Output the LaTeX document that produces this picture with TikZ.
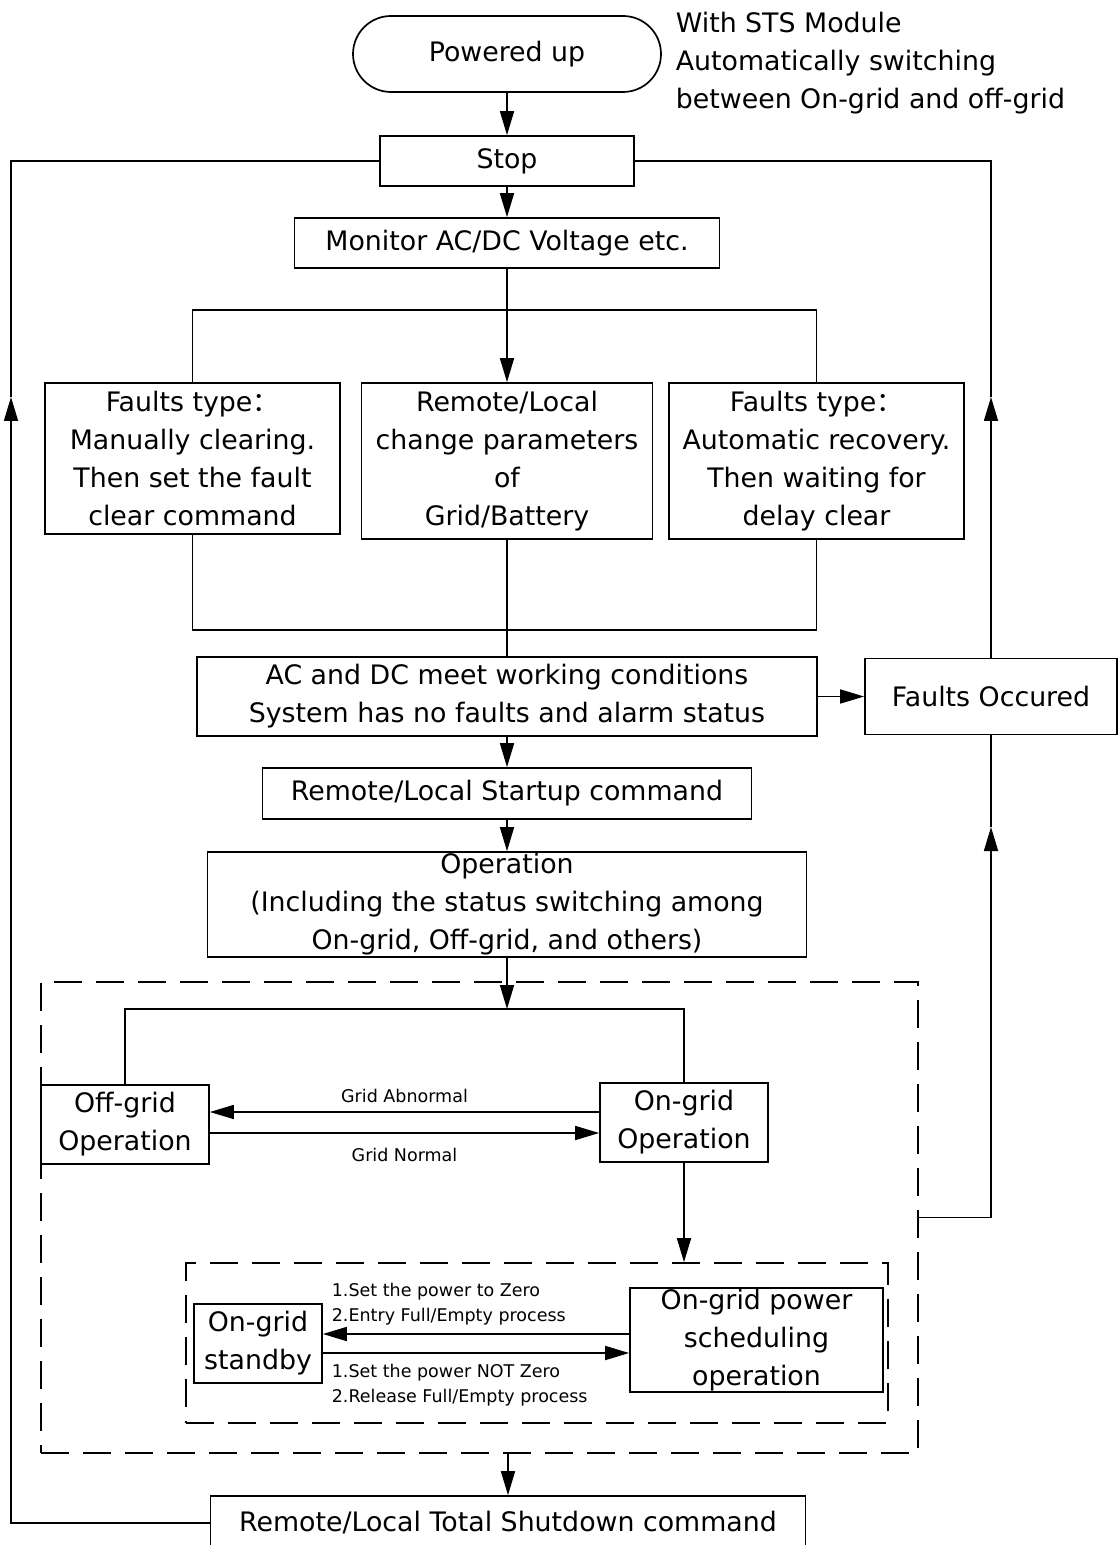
\documentclass[tikz,border=0pt]{standalone}
\usepackage{fontspec}
\setmainfont{DejaVu Sans}
\newfontfamily\cjkfont{Noto Sans CJK SC}
\usetikzlibrary{arrows.meta}

\begin{document}
\begin{tikzpicture}[x=0.5pt, y=-0.5pt, line width=0.85pt,
	box/.style={draw, align=center, inner sep=0pt, font=\fontsize{13.4}{19}\selectfont},
	lbl/.style={align=left, inner sep=0pt, font=\fontsize{8.75}{12.5}\selectfont},
	arr/.style={-{Triangle[length=12pt, width=7pt]}},
	zonebox/.style={draw, dash pattern=on 14pt off 7pt, inner sep=0pt}]
	\useasboundingbox (0,0) rectangle (1118,1545);
	
	% ====== Start and monitoring ======
	\node[box, rounded corners=19pt, minimum width=154pt, minimum height=38pt] (power) at (507,54) {Powered up};
	\node[align=left, inner sep=0pt, anchor=west, font=\fontsize{13.4}{19}\selectfont] (note) at (675,63) {With STS Module\\Automatically switching\\between On-grid and off-grid};
	\node[box, minimum width=127pt, minimum height=25pt] (stop) at (507,161) {Stop};
	\node[box, minimum width=212.5pt, minimum height=25pt] (monitor) at (507,243) {Monitor AC/DC Voltage etc.};
	
	% three parallel blocks
	\node[box, minimum width=147.5pt, minimum height=75.5pt] (manual) at (192.5,458.5) {Faults type{\cjkfont ：}\\Manually clearing.\\Then set the fault\\clear command};
	\node[box, minimum width=145.5pt, minimum height=78pt] (param) at (507,461) {Remote/Local\\change parameters\\of\\Grid/Battery};
	\node[box, minimum width=147.5pt, minimum height=78pt] (auto) at (816.5,461) {Faults type{\cjkfont ：}\\Automatic recovery.\\Then waiting for\\delay clear};
	
	% ====== Startup ======
	\node[box, minimum width=310pt, minimum height=39.5pt] (cond) at (507,696.5) {AC and DC meet working conditions\\System has no faults and alarm status};
	\node[box, minimum width=126pt, minimum height=38pt] (faults) at (991,696.5) {Faults Occured};
	\node[box, minimum width=244.5pt, minimum height=25.5pt] (startup) at (507,793.5) {Remote/Local Startup command};
	\node[box, minimum width=299.5pt, minimum height=52.5pt] (oper) at (507,904.5) {Operation\\(Including the status switching among\\On-grid, Off-grid, and others)};
	
	% ====== Running states (dashed zones) ======
	\node[zonebox, minimum width=438.5pt, minimum height=235.5pt] (zone) at (479.5,1217.5) {};
	\node[box, minimum width=84pt, minimum height=39.5pt] (offgrid) at (125,1124.5) {Off-grid\\Operation};
	\node[box, minimum width=84pt, minimum height=39.5pt] (ongrid) at (684,1122.5) {On-grid\\Operation};
	\node[zonebox, minimum width=351pt, minimum height=80pt] (schedzone) at (537,1343) {};
	\node[box, minimum width=64pt, minimum height=39.5pt] (standby) at (258,1343.5) {On-grid\\standby};
	\node[box, minimum width=126.5pt, minimum height=52pt] (sched) at (756.5,1340) {On-grid power\\scheduling\\operation};
	\node[lbl, anchor=west] (zerolbl) at (331,1304.5) {1.Set the power to Zero\\2.Entry Full/Empty process};
	\node[lbl, anchor=west] (nonzerolbl) at (331,1385.5) {1.Set the power NOT Zero\\2.Release Full/Empty process};
	
	% ====== Shutdown ======
	\node[box, minimum width=297.5pt, minimum height=27pt] (shutdown) at (508,1523) {Remote/Local Total Shutdown command};
	
	% main column
	\draw[arr] (power) -- (stop);
	\draw[arr] (stop) -- (monitor);
	\draw[arr] (monitor) -- (param);
	\coordinate (topbar) at (507,310);
	\draw (manual.north) |- (topbar) -| (auto.north);
	\coordinate (botbar) at (507,630);
	\draw (manual.south) |- (botbar) -| (auto.south);
	\draw (param) -- (cond);
	\draw[arr] (cond) -- (faults);
	\draw[arr] (cond) -- (startup);
	\draw[arr] (startup) -- (oper);
	
	% grid switching
	\coordinate (opsplit) at (507,1009);
	\draw[arr] (oper) -- (opsplit);
	\draw (offgrid.north) |- (opsplit) -| (ongrid.north);
	\draw[arr] ([yshift=5.25pt]ongrid.west) -- ([yshift=5.25pt]ongrid.west -| offgrid.east) node[lbl, midway, above=4pt] {Grid Abnormal};
	\draw[arr] ([yshift=-4.25pt]offgrid.east) -- ([yshift=-4.25pt]offgrid.east -| ongrid.west) node[lbl, midway, below=7pt] {Grid Normal};
	\draw[arr] (ongrid) -- (ongrid.south |- schedzone.north);
	\draw[arr] ([yshift=4.75pt]standby.east -| sched.west) -- ([yshift=4.75pt]standby.east);
	\draw[arr] ([yshift=-4.75pt]standby.east) -- ([yshift=-4.75pt]standby.east -| sched.west);
	\draw[arr] (zone.south -| shutdown.north) -- (shutdown.north);
	
	% feedback loops to Stop
	\coordinate (ltip) at (11,397);
	\draw[arr] (shutdown.west) -| (ltip);
	\draw (ltip) |- (stop.west);
	\coordinate (rtip) at (991,397);
	\draw[arr] (faults.north) -- (rtip);
	\draw (rtip) |- (stop.east);
	\coordinate (rlow) at (991,827);
	\draw[arr] (zone.east) -| (rlow);
	\draw (rlow) -- (faults.south);
\end{tikzpicture}
\end{document}
